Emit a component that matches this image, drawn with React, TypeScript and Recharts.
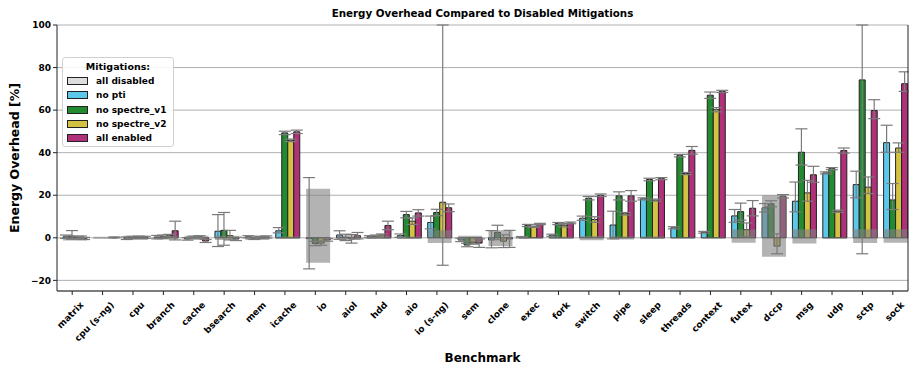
import React from "react";
import {
  BarChart,
  Bar,
  XAxis,
  YAxis,
  CartesianGrid,
  ErrorBar,
} from "recharts";

// Benchmarks on the x axis
const benchmarks = [
  "matrix", "cpu (s-ng)", "cpu", "branch", "cache", "bsearch", "mem", "icache",
  "io", "aiol", "hdd", "aio", "io (s-ng)", "sem", "clone", "exec", "fork",
  "switch", "pipe", "sleep", "threads", "context", "futex", "dccp", "msg",
  "udp", "sctp", "sock",
];

// Overhead in % relative to "all disabled"
const allDisabled = benchmarks.map(() => 0);
const noPti = [0.5, 0, -0.2, 0.3, -0.5, 3.1, 0.5, 3.3, -0.3, 1.3, 0.5, 1, 7.2, -1, -1, 0.3, 1.2, 9.2, 6, 18.3, 4.7, 2.6, 10.3, 14.1, 17.2, 30.5, 25, 44.7];
const noSpectreV1 = [0.8, 0, 0.2, 0.5, 0.3, 3.5, -0.3, 49.3, -2.7, 0.2, 0.8, 10.9, 11.9, -3.4, 2.5, 5.8, 6.7, 18.6, 19.7, 27.4, 38.6, 67, 12.3, 16, 40.2, 32.5, 74.2, 17.8];
const noSpectreV2 = [0.2, 0, 0.3, 1, 0.5, 1, 0.2, 45.8, -2.5, -0.5, 1.3, 7.8, 16.7, -2.4, -1.6, 5.2, 5.9, 8.6, 11.3, 17.7, 30.2, 60.2, 3.8, -3.9, 21.1, 12.5, 23.8, 42.2];
const allEnabled = [-0.3, 0.2, 0.2, 3.3, -1.5, -0.5, 0.4, 49.8, -1, 1, 5.8, 11.7, 14.1, -2.5, -0.5, 6.5, 7, 20, 19.7, 27.8, 41.1, 68.8, 13.9, 19.5, 29.6, 41, 59.8, 72.4];

// error bars as [below, above]; the two huge ones run up to the top of the plot
const noPtiErr = [[0.8, 0.8], [0.2, 0.2], [0.6, 0.6], [0.8, 0.8], [0.6, 0.6], [7.2, 7.8], [0.5, 0.5], [1, 1.5], [14.3, 28.6], [2, 2], [0.5, 0.5], [0.8, 0.8], [3, 3], [0.8, 0.8], [3.7, 4.4], [0.3, 0.3], [0.5, 0.5], [1, 1], [6.5, 6.5], [0.5, 0.5], [0.5, 0.5], [0.4, 0.4], [3, 3], [2, 2], [5, 9], [0.5, 0.5], [6.2, 6.3], [4.5, 8.2]];
const noSpectreV1Err = [[1.5, 2.6], [0.2, 0.2], [0.5, 0.5], [0.8, 0.8], [0.5, 0.5], [7, 8.4], [0.5, 0.5], [0.8, 0.8], [1, 1], [1.5, 1.5], [0.5, 0.5], [1.5, 1.5], [1.5, 1.5], [0.8, 0.8], [3.4, 3.4], [0.5, 0.5], [0.5, 0.5], [0.8, 0.8], [1.9, 1.9], [0.6, 0.6], [0.6, 0.6], [1.5, 1.5], [4, 4], [1.4, 1.4], [6, 11], [0.5, 0.5], [81.7, 25.8], [4.5, 7.7]];
const noSpectreV2Err = [[0.5, 0.5], [0.2, 0.2], [0.5, 0.5], [0.6, 0.6], [0.5, 0.5], [2, 2.5], [0.5, 0.5], [0.6, 0.6], [1, 1], [2, 2], [0.5, 0.5], [1.5, 1.5], [29.6, 83.3], [0.6, 0.6], [3, 3], [0.3, 0.3], [0.8, 0.8], [1.3, 1.3], [0.6, 0.6], [0.5, 0.5], [0.5, 0.5], [1, 1], [3.2, 3.2], [3.6, 5.8], [3.9, 5.9], [0.5, 0.5], [3, 4.8], [2, 2.4]];
const allEnabledErr = [[0.5, 0.5], [0.2, 0.2], [0.5, 0.5], [4.3, 4.5], [0.7, 0.7], [0.8, 0.8], [0.5, 0.5], [0.8, 0.8], [0.6, 0.6], [1.5, 1.5], [2, 2], [1.5, 1.5], [1.8, 1.8], [2, 2], [4, 4], [0.3, 0.3], [0.4, 0.4], [0.6, 0.6], [2.5, 2.5], [0.5, 0.5], [1.8, 1.8], [0.5, 0.5], [3.6, 3.6], [0.8, 0.8], [3.5, 4], [1.2, 1.2], [3.8, 5.1], [3.6, 5.6]];

// spread of the "all disabled" baseline (grey band)
const baseLow = [-1.3, -0.5, -1, -0.8, -1, -1, -1, -0.6, -11.7, -1, -0.6, -0.6, -2.4, -1.8, -3.9, -0.3, -0.5, -1.2, -0.8, -0.6, -0.3, -0.3, -2.3, -8.9, -2.7, -0.3, -2.5, -2.3];
const baseHigh = [1.3, 0.5, 1, 0.8, 1, 1, 1, 0.6, 23, 1.2, 0.6, 0.6, 3.6, 1, 3.6, 0.3, 0.5, 0.8, 0.6, 0.6, 0.3, 0.3, 3.9, 20, 4, 0.3, 4, 4];

const yTicks = [-20, 0, 20, 40, 60, 80, 100];

const FONT = "'DejaVu Sans', sans-serif";

const SERIES = [
  { key: "base", name: "all disabled", color: "#dddddd" },
  { key: "pti", name: "no pti", color: "#5ec8ea" },
  { key: "v1", name: "no spectre_v1", color: "#238b2f" },
  { key: "v2", name: "no spectre_v2", color: "#d4c244" },
  { key: "all", name: "all enabled", color: "#b0307a" },
];

const rows = benchmarks.map((name, i) => ({
  name,
  base: allDisabled[i],
  pti: noPti[i],
  ptiErr: noPtiErr[i],
  v1: noSpectreV1[i],
  v1Err: noSpectreV1Err[i],
  v2: noSpectreV2[i],
  v2Err: noSpectreV2Err[i],
  all: allEnabled[i],
  allErr: allEnabledErr[i],
  pad: 0,
  band: [baseLow[i], baseHigh[i]],
}));

const fmtY = (v: number) => (v < 0 ? `\u2212${-v}` : `${v}`);

// rotated benchmark names, right end just below/right of the tick
const renderXTick = (props: any) => {
  const { x, y, payload } = props;
  return (
    <g transform={`translate(${Number(x) + 12}, ${Number(y) + 8.5}) rotate(-45)`}>
      <text
        x={0}
        y={0}
        textAnchor="end"
        fontSize={9}
        fontWeight="bold"
        fontFamily={FONT}
        fill="#000"
      >
        {payload.value}
      </text>
    </g>
  );
};

export default function App() {
  return (
    <div
      style={{
        position: "absolute",
        left: 0,
        top: 0,
        width: 909,
        height: 365,
        background: "#fff",
        fontFamily: FONT,
      }}
    >
      {/* Title */}
      <div
        style={{
          position: "absolute",
          left: 57,
          width: 851,
          top: 7,
          textAlign: "center",
          fontSize: 10.3,
          fontWeight: "bold",
          color: "#000",
        }}
      >
        Energy Overhead Compared to Disabled Mitigations
      </div>

      <BarChart
        width={909}
        height={365}
        data={rows}
        margin={{ top: 25, right: 0, bottom: 0, left: 0 }}
        barGap={0}
        barCategoryGap={0}
      >
        <CartesianGrid vertical={false} stroke="#b0b0b0" strokeWidth={1} />
        <XAxis
          dataKey="name"
          interval={0}
          height={74}
          tick={renderXTick}
          tickSize={4}
          tickLine={{ stroke: "#222" }}
          axisLine={{ stroke: "#222" }}
          label={{
            value: "Benchmark",
            position: "insideBottom",
            offset: 3,
            style: { fontSize: 12, fontWeight: "bold", fontFamily: FONT, fill: "#000" },
          }}
        />
        <XAxis
          xAxisId="band"
          dataKey="name"
          orientation="top"
          height={0}
          tick={false}
          tickLine={false}
          axisLine={{ stroke: "#222" }}
        />
        <YAxis
          width={57}
          domain={[-25, 100]}
          ticks={yTicks}
          allowDataOverflow
          tickFormatter={fmtY}
          tickSize={4}
          tickLine={{ stroke: "#222" }}
          axisLine={{ stroke: "#222" }}
          tick={{ fontSize: 9, fontWeight: "bold", fontFamily: FONT, fill: "#000" }}
          label={{
            value: "Energy Overhead [%]",
            angle: -90,
            position: "insideLeft",
            offset: 15,
            style: { textAnchor: "middle", fontSize: 12.5, fontWeight: "bold", fontFamily: FONT, fill: "#000" },
          }}
        />
        <YAxis
          yAxisId="right"
          orientation="right"
          width={1}
          domain={[-25, 100]}
          tick={false}
          tickLine={false}
          axisLine={{ stroke: "#222" }}
        />

        {SERIES.map((s) => (
          <Bar
            key={s.key}
            dataKey={s.key}
            name={s.name}
            fill={s.color}
            stroke="#222"
            strokeWidth={1}
            barSize={6}
            isAnimationActive={false}
          >
            {s.key !== "base" && (
              <ErrorBar dataKey={`${s.key}Err`} width={6} stroke="#7a7a7a" strokeWidth={1.2} />
            )}
          </Bar>
        ))}

        {/* baseline spread, drawn over the bars next to the empty "all disabled" slot */}
        <Bar xAxisId="band" dataKey="pad" barSize={6} fill="none" isAnimationActive={false} />
        <Bar
          xAxisId="band"
          dataKey="band"
          barSize={24}
          fill="#808080"
          fillOpacity={0.6}
          isAnimationActive={false}
        />
      </BarChart>

      {/* Legend */}
      <div
        style={{
          position: "absolute",
          left: 62,
          top: 57,
          width: 112,
          height: 90,
          border: "1px solid #d0d0d0",
          borderRadius: 3,
          background: "rgba(255,255,255,0.85)",
          boxSizing: "border-box",
          fontSize: 9,
          fontWeight: "bold",
          color: "#000",
        }}
      >
        <div style={{ textAlign: "center", fontSize: 9.5, marginTop: 2, height: 14, lineHeight: "14px" }}>
          Mitigations:
        </div>
        {SERIES.map((s) => (
          <div key={s.key} style={{ display: "flex", alignItems: "center", height: 14.3, marginLeft: 4 }}>
            <span
              style={{
                display: "inline-block",
                width: 19,
                height: 6,
                background: s.color,
                border: "1px solid #222",
                marginRight: 8,
              }}
            />
            <span>{s.name}</span>
          </div>
        ))}
      </div>
    </div>
  );
}
